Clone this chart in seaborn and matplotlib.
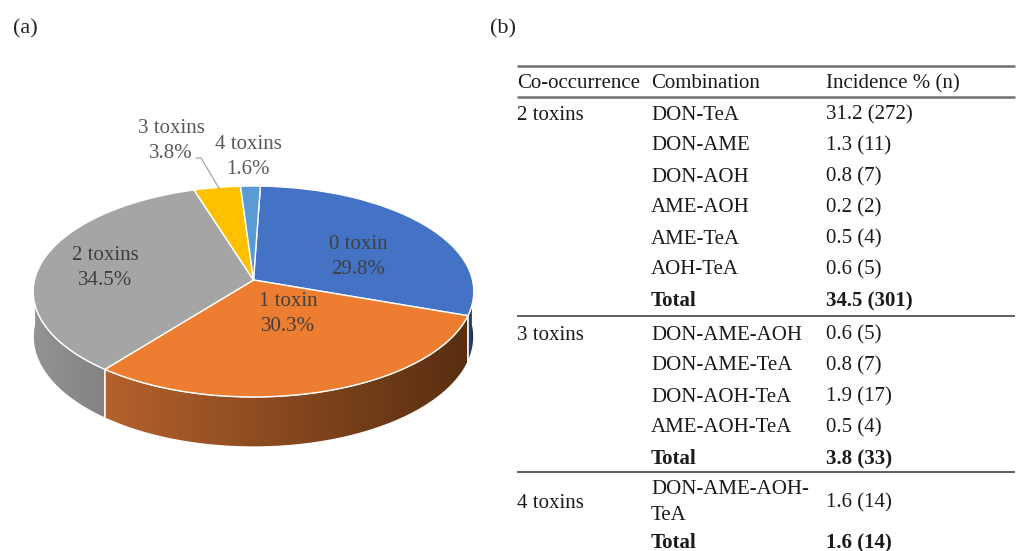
import numpy as np
import matplotlib
matplotlib.use("Agg")
import matplotlib.pyplot as plt
import matplotlib.transforms as mtransforms
from matplotlib.patches import Polygon
from matplotlib.colors import to_rgb
import seaborn as sns

# ---- (a) share of samples by number of co-occurring toxins ----
groups = ["0 toxin", "1 toxin", "2 toxins", "3 toxins", "4 toxins"]
shares = [29.8, 30.3, 34.5, 3.8, 1.6]

# ---- (b) co-occurrence table ----
header = ["Co-occurrence", "Combination", "Incidence % (n)"]
cooccurrence = ["2 toxins", "3 toxins", "4 toxins"]
combos_2 = ["DON-TeA", "DON-AME", "DON-AOH", "AME-AOH", "AME-TeA", "AOH-TeA"]
incid_2 = [31.2, 1.3, 0.8, 0.2, 0.5, 0.6]
n_2 = [272, 11, 7, 2, 4, 5]
combos_3 = ["DON-AME-AOH", "DON-AME-TeA", "DON-AOH-TeA", "AME-AOH-TeA"]
incid_3 = [0.6, 0.8, 1.9, 0.5]
n_3 = [5, 7, 17, 4]
combos_4 = ["DON-AME-AOH-TeA"]
incid_4 = [1.6]
n_4 = [14]
total_pct = [34.5, 3.8, 1.6]
total_n = [301, 33, 14]

sns.set_theme(style="white")
plt.rcParams["font.family"] = ["Liberation Serif", "DejaVu Serif"]

W, H = 1016, 551
fig = plt.figure(figsize=(W / 100, H / 100), dpi=100)
ax = fig.add_axes([0, 0, 1, 1])


class TiltedDisc(mtransforms.Transform):
    """Maps the unit pie disc onto a tilted, slightly foreshortened ellipse (pixel units, y down)."""
    input_dims = 2
    output_dims = 2

    def __init__(self, cx, cy, a, b, k):
        super().__init__()
        self.cx, self.cy, self.a, self.b, self.k = cx, cy, a, b, k

    def transform_non_affine(self, values):
        v = np.asarray(values, dtype=float)
        d = 1.0 + self.k * v[:, 1]
        return np.column_stack([self.cx + self.a * v[:, 0] / d,
                                self.cy - self.b * v[:, 1] / d])


disc = TiltedDisc(cx=253.5, cy=280.0, a=219.0, b=104.2, k=0.109)
DEPTH = 44.6

top_colors = ["#4472C4", "#ED7D31", "#A5A5A5", "#FFC000", "#5B9BD5"]
side_colors = [("#2C4677", "#1E2F55"), ("#B4612C", "#592E11"),
               ("#939393", "#838383"), ("#B58800", "#8A6700"),
               ("#3F6E99", "#2E5278")]

wedges, _ = ax.pie(shares, colors=top_colors, startangle=88, counterclock=False,
                   radius=1.0, wedgeprops=dict(edgecolor="white", linewidth=1.0))
for w in wedges:
    w.set_transform(disc + ax.transData)
    w.set_zorder(3)

# extruded rim of the front half of the pie
for w, (c_left, c_right) in zip(wedges, side_colors):
    t1, t2 = w.theta1, w.theta2
    for turn in (-1, 0, 1):
        lo = max(t1, -180 + 360 * turn)
        hi = min(t2, 360 * turn)
        if hi <= lo:
            continue
        tt = np.radians(np.linspace(lo, hi, 80))
        unit = np.column_stack([np.cos(tt), np.sin(tt)])
        top = disc.transform(unit)
        drop = DEPTH / (1.0 + disc.k * unit[:, 1])
        bottom = top + np.column_stack([np.zeros_like(drop), drop])
        verts = np.vstack([top, bottom[::-1]])
        rim = Polygon(verts, closed=True, facecolor="none", edgecolor="white",
                      linewidth=0.9, zorder=2)
        ax.add_patch(rim)
        x0, x1 = verts[:, 0].min(), verts[:, 0].max()
        y0, y1 = verts[:, 1].min(), verts[:, 1].max()
        ramp = np.linspace(0, 1, 64)[:, None]
        grad = (1 - ramp) * np.array(to_rgb(c_left)) + ramp * np.array(to_rgb(c_right))
        im = ax.imshow(grad[None, :, :], extent=(x0, x1, y1, y0), aspect="auto",
                       interpolation="bilinear", zorder=1.5)
        im.set_clip_path(rim)

# slice labels
label_pos = [(358, 257), (288, 314), (105, 268), (171, 141), (248, 157)]
label_col = ["#404040", "#404040", "#404040", "#595959", "#595959"]
for g, s, (lx, ly), c in zip(groups, shares, label_pos, label_col):
    ax.text(lx, ly, f"{g}\n{s:.1f}%", ha="center", va="center", fontsize=15,
            color=c, linespacing=1.45, zorder=5)

# leader line for the small "3 toxins" slice
yw = wedges[3]
mid = np.radians(0.5 * (yw.theta1 + yw.theta2))
tip = disc.transform(np.array([[np.cos(mid), np.sin(mid)]]))[0]
ax.plot([196, 201, tip[0] + 2], [158, 158, tip[1] + 1], color="#A6A6A6", lw=0.9, zorder=4)

# panel letters
ax.text(13, 29, "(a)", ha="left", va="center", fontsize=16, color="#222222")
ax.text(490, 29, "(b)", ha="left", va="center", fontsize=16, color="#222222")

# ---- table ----
col_x = [517, 651, 826]
line_x = (517, 1015)
pitch = 31
fs = 15
tc = "#1a1a1a"
dy = 2  # optical offset so glyphs sit centred on the row


def hline(y, lw, color):
    ax.plot(line_x, [y, y], color=color, lw=lw, solid_capstyle="butt", zorder=4)


hline(66, 1.8, "#707070")
for x, h in zip(col_x, header):
    ax.text(x, 82 + dy, h, ha="left", va="center", fontsize=fs, color=tc)
hline(97, 1.8, "#707070")

sections = [(combos_2, incid_2, n_2, 113),
            (combos_3, incid_3, n_3, 333)]
for (combos, inc, nn, y0), name, tp, tn in zip(sections, cooccurrence[:2], total_pct, total_n):
    ax.text(col_x[0], y0 + dy, name, ha="left", va="center", fontsize=fs, color=tc)
    for i, (cb, v, n) in enumerate(zip(combos, inc, nn)):
        y = y0 + i * pitch + dy
        ax.text(col_x[1], y, cb, ha="left", va="center", fontsize=fs, color=tc)
        ax.text(col_x[2], y, f"{v:.1f} ({n})", ha="left", va="center", fontsize=fs, color=tc)
    yt = y0 + len(combos) * pitch + dy
    ax.text(col_x[1], yt, "Total", ha="left", va="center", fontsize=fs, color=tc, weight="bold")
    ax.text(col_x[2], yt, f"{tp:.1f} ({tn})", ha="left", va="center", fontsize=fs,
            color=tc, weight="bold")

hline(315.5, 1.1, "#333333")
hline(472, 1.1, "#333333")

y4 = 501 + dy
ax.text(col_x[0], y4, cooccurrence[2], ha="left", va="center", fontsize=fs, color=tc)
wrapped = combos_4[0].replace("AOH-", "AOH-\n")
ax.text(col_x[1], y4, wrapped, ha="left", va="center", fontsize=fs, color=tc, linespacing=1.5)
ax.text(col_x[2], y4, f"{incid_4[0]:.1f} ({n_4[0]})", ha="left", va="center", fontsize=fs, color=tc)
ax.text(col_x[1], 541 + dy, "Total", ha="left", va="center", fontsize=fs, color=tc, weight="bold")
ax.text(col_x[2], 541 + dy, f"{total_pct[2]:.1f} ({total_n[2]})", ha="left", va="center",
        fontsize=fs, color=tc, weight="bold")

ax.set_aspect("auto")
ax.set_xlim(0, W)
ax.set_ylim(H, 0)
ax.axis("off")

fig.savefig("out.png", dpi=100, facecolor="white")
